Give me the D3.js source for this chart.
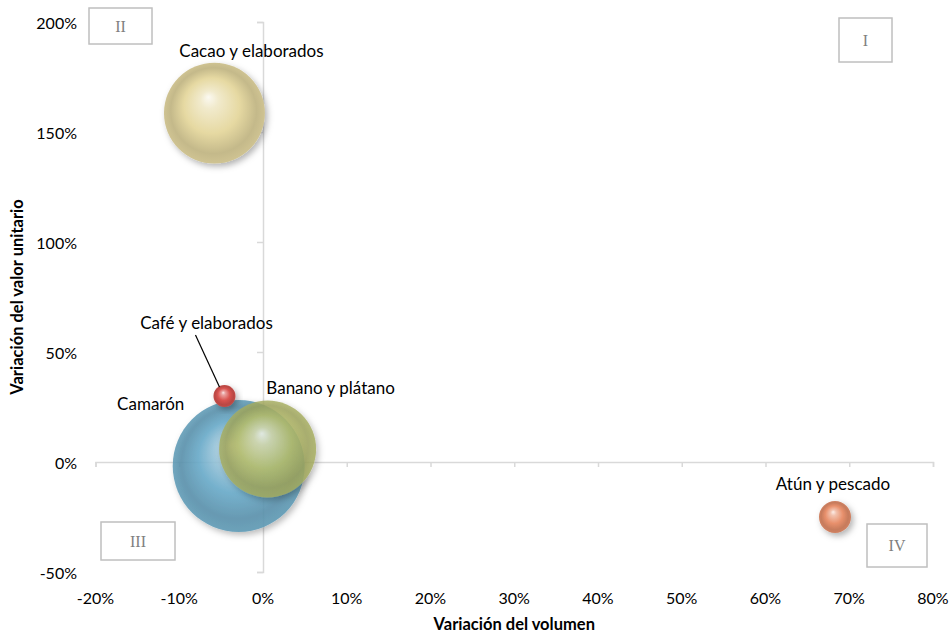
<!DOCTYPE html>
<html>
<head>
<meta charset="utf-8">
<script src="https://cdn.jsdelivr.net/npm/d3@7"></script>
<style>
  html, body { margin: 0; padding: 0; background: #fff; }
  svg { display: block; font-family: Lato, "Open Sans", sans-serif; }
</style>
</head>
<body>
<svg id="chart" width="949" height="633"></svg>
<script>
// Export groups: change in volume (x), change in unit value (y), bubble size
const categories = ["Cacao y elaborados", "Camarón", "Café y elaborados", "Banano y plátano", "Atún y pescado"];
const volumeChange = [-0.058, -0.029, -0.046, 0.0055, 0.683];
const unitValueChange = [1.586, -0.018, 0.30, 0.059, -0.25];
const bubbleSize = [1870, 3200, 89, 1730, 188];
const bubbleColors = ["#e6d9a2", "#6aaccb", "#d9534f", "#b9c06a", "#e8906c"];
const bubbleOpacity = [1, 0.88, 1, 0.82, 1];

const xTicks = [-0.2, -0.1, 0, 0.1, 0.2, 0.3, 0.4, 0.5, 0.6, 0.7, 0.8];
const yTicks = [-0.5, 0, 0.5, 1, 1.5, 2];
const quadrantLabels = ["I", "II", "III", "IV"];

const svg = d3.select("#chart");
const W = 949, H = 633;
const margin = { top: 22, right: 16, bottom: 61, left: 95.5 };

const x = d3.scaleLinear().domain([-0.2, 0.8]).range([margin.left, W - margin.right]);
const y = d3.scaleLinear().domain([-0.5, 2]).range([H - margin.bottom, margin.top]);
const r = d3.scaleSqrt().domain([0, 3200]).range([0, 66]);
const pct = d => d3.format(".0%")(d).replace("\u2212", "-");

const defs = svg.append("defs");
const shadow = defs.append("filter").attr("id", "shadow")
  .attr("x", "-30%").attr("y", "-30%").attr("width", "160%").attr("height", "160%");
shadow.append("feDropShadow").attr("dx", 2.5).attr("dy", 3).attr("stdDeviation", 3)
  .attr("flood-color", "#000").attr("flood-opacity", 0.3);

// Sphere-like shading per bubble
bubbleColors.forEach((c, i) => {
  const base = d3.color(c);
  const g = defs.append("radialGradient").attr("id", "grad" + i)
    .attr("cx", "50%").attr("cy", "50%").attr("r", "50%")
    .attr("fx", "44%").attr("fy", "34%");
  g.append("stop").attr("offset", "0%").attr("stop-color", d3.interpolateRgb(base, "#fff")(0.85));
  g.append("stop").attr("offset", "18%").attr("stop-color", d3.interpolateRgb(base, "#fff")(0.45));
  g.append("stop").attr("offset", "55%").attr("stop-color", base.formatHex());
  g.append("stop").attr("offset", "85%").attr("stop-color", base.darker(0.45).formatHex());
  g.append("stop").attr("offset", "100%").attr("stop-color", base.darker(0.3).formatHex());
});

const axisColor = "#d9d9d9";

// Horizontal axis through y = 0, ticks pointing down
const xAxis = svg.append("g").attr("transform", `translate(0,${y(0)})`)
  .call(d3.axisBottom(x).tickValues(xTicks).tickSize(5).tickSizeOuter(5).tickFormat(""));
xAxis.selectAll("path, line").attr("stroke", axisColor).attr("stroke-width", 1.5);

// Vertical axis through x = 0, ticks pointing left
const yAxis = svg.append("g").attr("transform", `translate(${x(0)},0)`)
  .call(d3.axisLeft(y).tickValues(yTicks).tickSize(6).tickSizeOuter(6).tickFormat(""));
yAxis.selectAll("path, line").attr("stroke", axisColor).attr("stroke-width", 1.5);

// Tick labels along the plot edges
svg.append("g").selectAll("text").data(xTicks).join("text")
  .attr("x", d => x(d)).attr("y", H - margin.bottom + 25)
  .attr("text-anchor", "middle").attr("dominant-baseline", "central")
  .attr("font-size", 16).attr("fill", "#000").text(pct);

svg.append("g").selectAll("text").data(yTicks).join("text")
  .attr("x", 77).attr("y", d => y(d))
  .attr("text-anchor", "end").attr("dominant-baseline", "central")
  .attr("font-size", 16).attr("fill", "#000").text(pct);

// Axis titles
svg.append("text").attr("x", (margin.left + W - margin.right) / 2).attr("y", 624)
  .attr("text-anchor", "middle").attr("dominant-baseline", "central")
  .attr("font-size", 16.5).attr("font-weight", "bold").text("Variación del volumen");
svg.append("text")
  .attr("transform", `translate(17,${(margin.top + H - margin.bottom) / 2}) rotate(-90)`)
  .attr("text-anchor", "middle").attr("dominant-baseline", "central")
  .attr("font-size", 16.5).attr("font-weight", "bold").text("Variación del valor unitario");

// Quadrant boxes
const quadBoxes = [
  { x: 839, y: 18, w: 53, h: 44 },
  { x: 89, y: 8, w: 63, h: 36 },
  { x: 101, y: 522, w: 74, h: 38 },
  { x: 867, y: 524, w: 60, h: 43 }
];
const qg = svg.append("g").selectAll("g").data(quadrantLabels).join("g")
  .attr("transform", (d, i) => `translate(${quadBoxes[i].x},${quadBoxes[i].y})`);
qg.append("rect").attr("width", (d, i) => quadBoxes[i].w).attr("height", (d, i) => quadBoxes[i].h)
  .attr("fill", "#fff").attr("stroke", "#bfbfbf").attr("stroke-width", 1.5);
qg.append("text").attr("x", (d, i) => quadBoxes[i].w / 2).attr("y", (d, i) => quadBoxes[i].h / 2)
  .attr("text-anchor", "middle").attr("dominant-baseline", "central")
  .attr("font-family", "'Liberation Serif', 'DejaVu Serif', serif")
  .attr("font-size", 16).attr("fill", "#7f7f7f").text(d => d);

// Bubbles
const idx = d3.range(categories.length);
svg.append("g").selectAll("circle").data(idx).join("circle")
  .attr("cx", i => x(volumeChange[i]))
  .attr("cy", i => y(unitValueChange[i]))
  .attr("r", i => r(bubbleSize[i]))
  .attr("fill", i => `url(#grad${i})`)
  .attr("fill-opacity", i => bubbleOpacity[i])
  .attr("filter", "url(#shadow)");

// Bubble labels, offset from each bubble centre
const labelOffset = [[37, -63], [-88, -62], [-18, -74], [63, -62], [-2, -34]];
svg.append("g").selectAll("text").data(idx).join("text")
  .attr("x", i => x(volumeChange[i]) + labelOffset[i][0])
  .attr("y", i => y(unitValueChange[i]) + labelOffset[i][1])
  .attr("text-anchor", "middle").attr("dominant-baseline", "central")
  .attr("font-size", 17).attr("fill", "#000").text(i => categories[i]);

// Leader line for the small coffee bubble
const cafe = 2;
svg.append("line")
  .attr("x1", x(volumeChange[cafe]) - 29).attr("y1", y(unitValueChange[cafe]) - 61)
  .attr("x2", x(volumeChange[cafe]) - 5).attr("y2", y(unitValueChange[cafe]) - 9)
  .attr("stroke", "#000").attr("stroke-width", 1.2);
</script>
</body>
</html>
